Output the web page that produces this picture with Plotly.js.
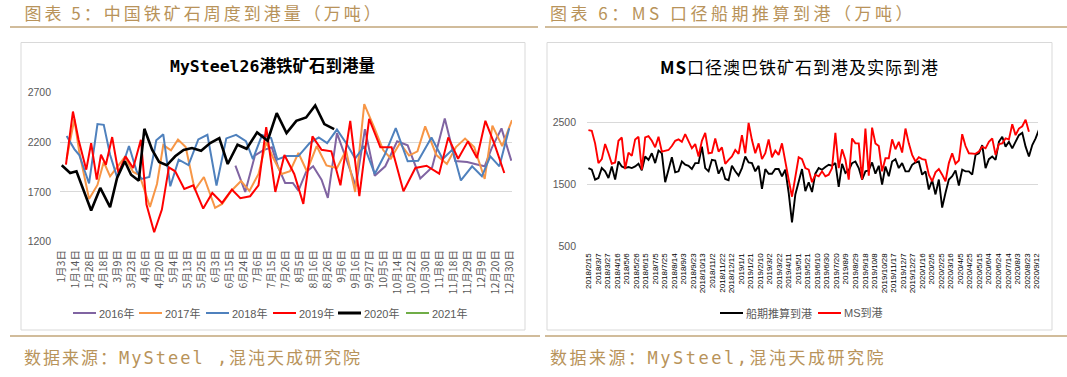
<!DOCTYPE html>
<html><head><meta charset="utf-8">
<script src="https://cdn.plot.ly/plotly-3.0.1.min.js"></script>
<style>
html,body{margin:0;padding:0;background:#fff}#c{width:1067px;height:377px}
.annotation[data-index="0"] text{letter-spacing:3px}
.annotation[data-index="1"] text{letter-spacing:3.5px}
.annotation[data-index="2"] text{letter-spacing:2px}
.annotation[data-index="3"] text{letter-spacing:2.5px}
.annotation[data-index="5"] text{letter-spacing:1px}
</style>
</head><body><div id="c"></div><script>
// ---------- Left chart data (MySteel 26 ports weekly arrivals, 10k t) ----------
const weekLabels = ['1月3日','1月14日','1月28日','2月18日','3月9日','3月23日','4月6日','4月20日','5月4日','5月13日','5月25日','6月3日','6月15日','6月24日','7月6日','7月15日','7月26日','8月5日','8月16日','8月26日','9月6日','9月16日','9月27日','10月5日','10月14日','10月22日','10月30日','11月8日','11月18日','11月29日','12月9日','12月20日','12月30日'];
const seriesNames = ['2016年','2017年','2018年','2019年','2020年','2021年'];
const pos2016 = [24.8,26.2,27.6,28.8,30,30.9,31.9,33,33.8,34.9,35.9,37.1,38,39.3,40.5,42,43.3,44.7,46.2,47.9,49.4,51.2,52.9,54.7,56.2,57.9,59.3,60.4,61.4,62.8,64.2];
const val2016 = [1963,1700,2067,2120,2147,1950,1790,1790,1713,1900,1957,1823,1640,2290,2057,1757,2330,1862,1957,2207,2167,1835,1948,2437,2010,2000,1975,1957,2140,2337,2013];
const pos2017 = [0.7,1.8,2.5,3.9,5.1,6,6.9,8,9,10.2,11.1,12.6,13.6,14.5,15.6,16.6,17.7,19,20.3,21.9,22.9,24.2,25.6,26.8,28.1,29.2,30.2,31.4,32.6,33.8,35,36.4,37.8,39.3,40.6,41.9,43.2,44.6,45.9,47,48.3,49.6,50.8,51.9,53.5,55,56.3,57.6,58.9,60.4,61.5,62.9,64.3];
const val2017 = [2033,2430,2100,1630,1770,2000,1857,1957,2050,1900,1870,1550,1780,2170,2117,2225,2150,1720,1850,1540,1580,1710,1810,1710,1880,2200,2040,1880,1907,2090,1907,2160,1965,1940,2115,1700,2580,2350,2120,2035,2190,2065,2107,2357,2070,1980,2150,2235,2150,1830,2365,2160,2420];
const pos2018 = [0.7,1.8,2.5,3.9,5.1,6,6.9,7.9,8.8,9.6,10.7,11.4,12.5,13.5,14.5,15.5,16.7,18.1,19.5,20.8,22.1,23.5,24.9,26.3,27.3,28.6,29.9,30.8,32.1,33.8,35.4,36.7,37.9,39.3,40.7,41.9,43.2,44.7,46.1,47.7,49.4,50.9,52.8,54.4,55.8,57,58.6,60,61.2,62.5,63.9];
const val2018 = [2260,2130,2070,1785,2380,2373,2073,1848,1990,2160,1907,1830,1850,2218,2277,1757,2023,1970,2227,2273,1765,2237,2273,2210,2030,2270,2240,2025,2060,2060,2190,2247,2190,2325,2180,2035,2160,1880,2070,2340,2007,2013,2245,2030,2125,1815,1957,1857,2057,1957,2338];
const pos2019 = [0.6,1.6,2.4,3.5,4.2,5,5.6,6.3,7.2,8.1,9.1,10.2,11.3,12.1,13.2,14.3,15.3,16.2,17.5,18.8,20.2,21.5,22.9,24.3,25.5,26.9,28.1,29.2,30.5,31.8,33.2,34.5,35.8,37.1,38.5,39.8,41.2,42.5,43.9,45.5,47.1,48.8,50.5,52.1,53.9,55.2,56.6,58,59.3,60.5,61.8,63.2];
const val2019 = [1973,2506,2223,1923,2190,1823,2073,1973,2250,1890,2057,1940,2223,1573,1296,1523,1947,1907,1730,1767,1533,1690,1590,1723,1637,1657,1767,2350,1700,2070,1880,1580,2257,2123,2107,1767,2413,1657,2433,2147,2147,1707,1940,1963,1883,2247,2033,2207,2040,2413,2180,1890];
const pos2020 = [0,1.2,2.1,3.2,4.2,5.5,6.9,7.9,9,9.9,11,11.8,12.9,13.9,15,16.2,17.4,18.6,19.9,21.2,22.5,23.7,25.1,26.4,27.9,29.4,30.7,32.1,33.5,34.9,36.2,37.5,38.9];
const val2020 = [1967,1890,1907,1707,1513,1740,1547,1840,2007,1873,1813,2333,2123,2000,1967,2057,2120,2140,2113,2190,2240,1980,2173,2133,2297,2213,2490,2290,2413,2447,2567,2380,2330];
const pos2021 = [];
const val2021 = [];
const leftTicks = [1200,1700,2200,2700];

// ---------- Right chart data (weekly, starting 2018/2/15) ----------
const rightStart = '2018-02-15';
const rightNames = ['船期推算到港','MS到港'];
const shipEstimate = [1766,1739,1580,1606,1766,1713,1606,1792,1580,1872,1792,1766,1782,1766,1792,1835,1729,1952,1899,2005,1846,2048,2005,1537,1739,1941,1697,1713,1872,1819,1803,1750,1846,1846,2112,1766,1713,1899,1888,1675,1782,1590,1569,1803,1713,
 1643,1766,1952,1856,1846,1713,1803,1431,1750,1675,1675,1750,1750,1633,1739,1367,888,1340,1569,1750,1393,1537,1378,1675,1766,1739,1782,1819,1803,1846,1463,1835,1687,1729,1846,1872,1766,1580,1713,1729,1856,1675,1803,1500,1792,1633,
 1872,1910,1766,1846,1713,1713,1819,1856,1872,1659,1713,1420,1569,1340,1580,1127,1367,1580,1633,1729,1484,1739,1713,1713,1659,1979,2005,2138,1766,1910,1952,1899,2191,2271,2112,2191,2085,2191,2298,2335,2112,1952,2138,2245,2388];
const msArrival = [2378,2367,2165,1846,1910,2154,2005,1835,1856,2207,2260,1750,2016,1963,2229,2271,1739,2260,2282,2207,2101,2271,2032,2048,2058,2122,2207,2229,2191,2314,2207,2085,2154,1952,2207,2335,2005,2016,2245,2032,2101,1835,1899,1952,2058,
 1995,2298,2005,2495,2218,2005,2165,1910,2005,2229,1941,2048,1979,2165,1899,1580,1303,1633,1941,1910,1766,1739,1537,1659,1633,1713,1633,1659,1766,2335,1766,2069,1899,1580,2245,2165,2165,1580,2404,1643,2420,2165,2122,1713,1925,1925,
 2229,2069,2191,2016,2404,2165,1979,1872,1941,1910,1899,1659,1553,1697,1750,1659,1553,1846,2005,1835,1888,2314,2122,2005,1995,1995,2032,2112,2085,2191,2245,1979,2154,2165,2245,2229,2473,2298,2404,2441,2548,2351];
const rightTicks = [500,1500,2500];

// ---------- styling ----------
const W = 1067, H = 377;
const px = x => x / W, py = y => 1 - y / H;
const TAN = '#b8935a', LINE_TAN = '#c2a67a', GRID = '#d9d9d9', TXT = '#595959';
const FONT = 'Liberation Sans, Noto Sans CJK SC, sans-serif';
const CJK = 'Noto Sans CJK SC, sans-serif';
const MONO = 'DejaVu Sans Mono, Noto Sans CJK SC, monospace';
const leftColors = ['#8064a2','#f79646','#4f81bd','#ff0000','#000000','#70ad47'];
const leftWidths = [2,2,2,2,2.6,2];

const leftPos = [pos2016,pos2017,pos2018,pos2019,pos2020,pos2021];
const leftVal = [val2016,val2017,val2018,val2019,val2020,val2021];
const traces = [];
seriesNames.forEach((n,i)=>{
  traces.push({type:'scatter',mode:'lines',name:n,x:leftPos[i],y:leftVal[i],xaxis:'x',yaxis:'y',
    connectgaps:true,line:{color:leftColors[i],width:leftWidths[i]},hoverinfo:'skip',showlegend:false});
});
const rightSeries = [shipEstimate, msArrival];
const rightColors = ['#000000','#ff0000'];
rightSeries.forEach((s,i)=>{
  traces.push({type:'scatter',mode:'lines',name:rightNames[i],x0:rightStart,dx:7*86400000,y:s,xaxis:'x2',yaxis:'y2',
    line:{color:rightColors[i],width:1.9},hoverinfo:'skip',showlegend:false});
});

const shapes = [
  {type:'line',xref:'paper',yref:'paper',x0:px(10),x1:px(538),y0:py(27),y1:py(27),line:{color:LINE_TAN,width:1.5}},
  {type:'line',xref:'paper',yref:'paper',x0:px(545),x1:px(1067),y0:py(27),y1:py(27),line:{color:LINE_TAN,width:1.5}},
  {type:'line',xref:'paper',yref:'paper',x0:px(10),x1:px(540),y0:py(336),y1:py(336),line:{color:LINE_TAN,width:1.5}},
  {type:'line',xref:'paper',yref:'paper',x0:px(545),x1:px(1067),y0:py(336),y1:py(336),line:{color:LINE_TAN,width:1.5}},
  {type:'rect',xref:'paper',yref:'paper',x0:px(21),x1:px(525),y0:py(330),y1:py(42.5),line:{color:GRID,width:1},layer:'below'},
  {type:'rect',xref:'paper',yref:'paper',x0:px(547),x1:px(1052),y0:py(330),y1:py(42.5),line:{color:GRID,width:1},layer:'below'}
];
// x positions include half of the CSS letter-spacing growth (text is centre-anchored internally)
const annotations = [
  {text:'图表 5：中国铁矿石周度到港量（万吨）',x:px(22+28.5),y:py(13),xanchor:'left',yanchor:'middle',font:{family:CJK,size:17,color:TAN}},
  {text:'图表 6：MS 口径船期推算到港（万吨）',x:px(548+35),y:py(13),xanchor:'left',yanchor:'middle',font:{family:CJK,size:17,color:TAN}},
  {text:'数据来源：MySteel ,混沌天成研究院',x:px(22+21),y:py(358),xanchor:'left',yanchor:'middle',font:{family:MONO,size:17,color:TAN}},
  {text:'数据来源：MySteel,混沌天成研究院',x:px(548+25),y:py(358),xanchor:'left',yanchor:'middle',font:{family:MONO,size:17,color:TAN}},
  {text:'<b>MySteel26港铁矿石到港量</b>',x:px(272),y:py(66),xanchor:'center',yanchor:'middle',font:{family:MONO,size:16.5,color:'#000'}},
  {text:'<b>MS</b>口径澳巴铁矿石到港及实际到港',x:px(799),y:py(66),xanchor:'center',yanchor:'middle',font:{family:CJK,size:17,color:'#000'}}
];
annotations.forEach(a=>{a.xref='paper';a.yref='paper';a.showarrow=false;});

function legendItem(x, y, color, width, label){
  shapes.push({type:'line',xref:'paper',yref:'paper',x0:px(x),x1:px(x+23),y0:py(y),y1:py(y),line:{color:color,width:width}});
  annotations.push({text:label,xref:'paper',yref:'paper',x:px(x+24),y:py(y),xanchor:'left',yanchor:'middle',showarrow:false,font:{family:FONT,size:11,color:TXT}});
}
const leftLegendX = [73,139,206,273,338,406];
seriesNames.forEach((n,i)=>legendItem(leftLegendX[i],313,leftColors[i],n==='2020年'?3:2,n));
legendItem(720,313,'#000000',2,rightNames[0]);
legendItem(818,313,'#ff0000',2,rightNames[1]);

const layout = {
  width:W,height:H,autosize:false,margin:{l:0,r:0,t:0,b:0},
  paper_bgcolor:'#ffffff',plot_bgcolor:'rgba(0,0,0,0)',showlegend:false,
  font:{family:FONT,color:TXT},
  xaxis:{domain:[px(60),px(512)],range:[-0.25,64.3],tickvals:weekLabels.map((_,i)=>2*i),ticktext:weekLabels,
    tickangle:-90,showgrid:false,zeroline:false,showline:false,ticks:'',ticklabelstandoff:5,
    tickfont:{family:CJK,size:10.5,color:TXT},anchor:'y'},
  yaxis:{domain:[py(242),py(92)],range:[1198,2702],tickvals:leftTicks,gridcolor:GRID,gridwidth:1,zeroline:false,
    showline:false,ticks:'',ticklabelstandoff:8,tickfont:{family:FONT,size:10.5,color:TXT},anchor:'x'},
  xaxis2:{type:'date',domain:[px(587),px(1038)],range:['2018-02-12','2020-09-15'],tick0:'2018-02-15',dtick:20*86400000,
    tickformat:'%Y/%-m/%-d',tickangle:-90,showgrid:false,zeroline:false,showline:false,ticks:'',ticklabelstandoff:4,
    tickfont:{family:FONT,size:8,color:'#000'},anchor:'y2'},
  yaxis2:{domain:[py(246.7),py(91.7)],range:[495,3000],tickvals:rightTicks,gridcolor:GRID,gridwidth:1,zeroline:false,
    showline:false,ticks:'',ticklabelstandoff:10,tickfont:{family:FONT,size:10.5,color:TXT},anchor:'x2'},
  shapes:shapes,annotations:annotations
};
Plotly.newPlot('c',traces,layout,{staticPlot:true,displayModeBar:false});
</script></body></html>
